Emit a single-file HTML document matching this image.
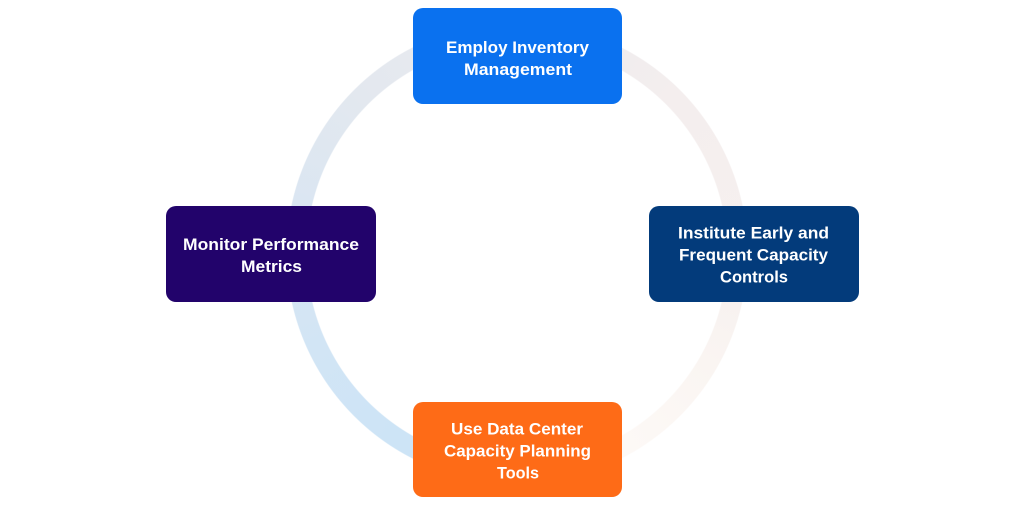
<!DOCTYPE html>
<html>
<head>
<meta charset="utf-8">
<style>
  html, body { margin: 0; padding: 0; background: #ffffff; }
  body { width: 1024px; height: 507px; position: relative; overflow: hidden; }
  .ring {
    position: absolute;
    left: 286px; top: 22px; width: 462px; height: 462px;
    border-radius: 50%;
    background: conic-gradient(from 0deg,
      #ebebef 0deg, #f4eeee 45deg, #f6f0ef 90deg, #faf5f2 120deg,
      #fdf9f6 150deg, #fefbf9 178deg, #cde4f6 182deg, #cde4f6 215deg,
      #d2e5f5 245deg, #dae6f2 280deg, #e3e8ef 315deg, #ebebef 360deg);
    -webkit-mask: radial-gradient(circle at center, transparent 210px, #000 211px, #000 230px, transparent 231px);
    mask: radial-gradient(circle at center, transparent 210px, #000 211px, #000 230px, transparent 231px);
  }
  svg { position: absolute; left: 0; top: 0; }
  text { font-family: "Liberation Sans", Arial, sans-serif; font-weight: bold; font-size: 16.5px; fill: #ffffff; }
</style>
</head>
<body>
<div class="ring"></div>
<svg width="1024" height="507" viewBox="0 0 1024 507">
  <!-- Top -->
  <rect x="413" y="8" width="209" height="96" rx="10" ry="10" fill="#0a71ef"/>
  <text x="446" y="53" textLength="143" lengthAdjust="spacingAndGlyphs">Employ Inventory</text>
  <text x="464" y="75" textLength="108" lengthAdjust="spacingAndGlyphs">Management</text>

  <!-- Left -->
  <rect x="166" y="206" width="210" height="96" rx="10" ry="10" fill="#22036b"/>
  <text x="183" y="250" textLength="176" lengthAdjust="spacingAndGlyphs">Monitor Performance</text>
  <text x="241" y="272" textLength="61" lengthAdjust="spacingAndGlyphs">Metrics</text>

  <!-- Right -->
  <rect x="649" y="206" width="210" height="96" rx="10" ry="10" fill="#033b7b"/>
  <text x="678" y="238.5" textLength="151" lengthAdjust="spacingAndGlyphs">Institute Early and</text>
  <text x="679" y="260.5" textLength="149" lengthAdjust="spacingAndGlyphs">Frequent Capacity</text>
  <text x="720" y="282.5" textLength="68" lengthAdjust="spacingAndGlyphs">Controls</text>

  <!-- Bottom -->
  <rect x="413" y="402" width="209" height="95" rx="10" ry="10" fill="#fe6b17"/>
  <text x="451" y="434.5" textLength="132" lengthAdjust="spacingAndGlyphs">Use Data Center</text>
  <text x="444" y="456.5" textLength="147" lengthAdjust="spacingAndGlyphs">Capacity Planning</text>
  <text x="497" y="478.5" textLength="42" lengthAdjust="spacingAndGlyphs">Tools</text>
</svg>
</body>
</html>
